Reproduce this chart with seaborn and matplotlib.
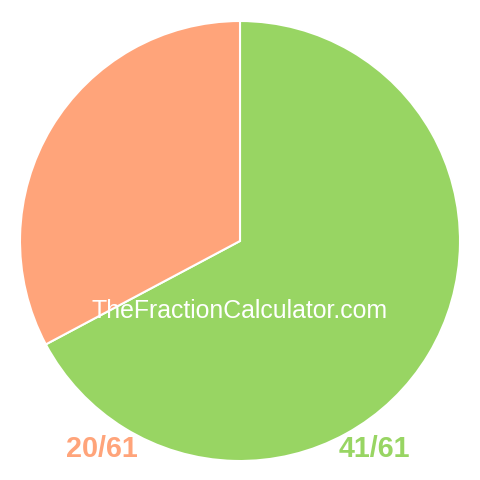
import matplotlib
matplotlib.use("Agg")
import matplotlib.pyplot as plt
import seaborn as sns

sns.set_theme(style="white")
plt.rcParams['font.family'] = ['Liberation Sans', 'DejaVu Sans']

labels = ["41/61", "20/61"]
values = [41, 20]
colors = ["#98D563", "#FFA47A"]
watermark = "TheFractionCalculator.com"

fig = plt.figure(figsize=(4.8, 4.8), dpi=100)
ax = fig.add_axes([0, 0, 1, 1])
ax.pie(values, colors=colors, startangle=90, counterclock=False,
       radius=220, center=(240, 239),
       wedgeprops=dict(edgecolor="white", linewidth=1.5))
ax.set_xlim(0, 480)
ax.set_ylim(0, 480)
ax.set_aspect("equal")
ax.axis("off")

ax.text(240, 169, watermark, color="white", fontsize=17.9, ha="center", va="center")
ax.text(102, 31, labels[1], color=colors[1], fontsize=20.7, fontweight="bold", ha="center", va="center")
ax.text(374, 31, labels[0], color=colors[0], fontsize=20.7, fontweight="bold", ha="center", va="center")

fig.savefig("out.png", dpi=100, facecolor="white")
